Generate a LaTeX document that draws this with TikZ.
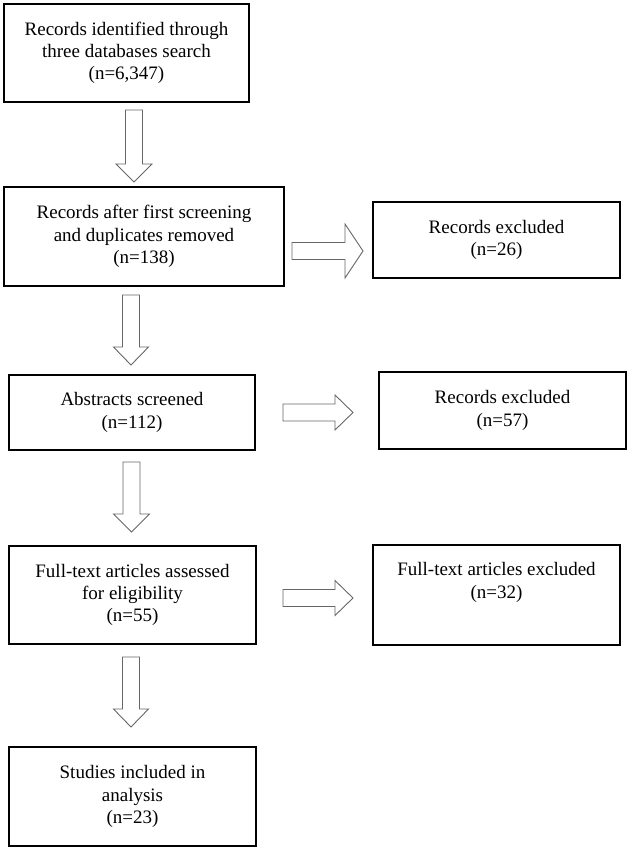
\documentclass[tikz,border=0pt]{standalone}
\usepackage{fontspec}
\setmainfont{Liberation Serif}

\tikzset{
  box/.style={draw, line width=1.8pt, align=center, outer sep=0pt,
              font=\fontsize{19}{22.3}\selectfont},
  arrowline/.style={draw=black!60, line width=0.9pt, fill=white},
}

% hollow block arrow: tail, angle, length, half head width
\newcommand{\hollowarrow}[4]{%
  \begin{scope}[shift={(#1)}, rotate=#2]
    \draw [arrowline] (0,-8.5) -- (#3-18,-8.5) -- (#3-18,-#4) -- (#3,0)
       -- (#3-18,#4) -- (#3-18,8.5) -- (0,8.5) -- cycle;
  \end{scope}}

\begin{document}
\begin{tikzpicture}[x=1pt, y=1pt]
    \useasboundingbox (0,0) rectangle (630,-850);

    % Identification
    \node [box, minimum width=245pt, minimum height=98pt] (b1) at (126.5,-53)
          {Records identified through\\three databases search\\(n=6,347)};

    % First screening
    \node [box, minimum width=280pt, minimum height=99pt] (b2) at (144,-236.5)
          {Records after first screening\\and duplicates removed\\(n=138)};
    \node [box, minimum width=247pt, minimum height=76pt] (b3) at (496.5,-240)
          {Records excluded\\(n=26)};

    % Abstracts
    \node [box, minimum width=246pt, minimum height=75pt] (b4) at (132,-412.5)
          {Abstracts screened\\(n=112)};
    \node [box, minimum width=247pt, minimum height=77pt] (b5) at (502.5,-410.5)
          {Records excluded\\(n=57)};

    % Full text
    \node [box, minimum width=247pt, minimum height=98pt] (b6) at (132.5,-595)
          {Full-text articles assessed\\for eligibility\\(n=55)};
    \node [box, minimum width=247pt, minimum height=100pt] (b7) at (496.5,-595)
          {Full-text articles excluded\\(n=32)\\\strut};

    % Included
    \node [box, minimum width=247pt, minimum height=99pt] (b8) at (132.5,-796.5)
          {Studies included in\\analysis\\(n=23)};

    % Arrow tails
    \path (b1.south)+(7.5,-8) coordinate (t1);
    \path (b2.south)+(-13,-9) coordinate (t2);
    \path (b4.south)+(-0.5,-12) coordinate (t3);
    \path (b6.south)+(-1.5,-13) coordinate (t4);
    \path (b2.east)+(8,-14.5) coordinate (r1);
    \path (b4.east)+(28,0) coordinate (r2);
    \path (b6.east)+(27,-3) coordinate (r3);

    % Down arrows
    \hollowarrow{t1}{-90}{72}{18}
    \hollowarrow{t2}{-90}{70}{17.5}
    \hollowarrow{t3}{-90}{70}{18}
    \hollowarrow{t4}{-90}{70}{17.5}

    % Exclusion arrows
    \hollowarrow{r1}{0}{71}{27}
    \hollowarrow{r2}{0}{70}{17.5}
    \hollowarrow{r3}{0}{70}{17.5}

\end{tikzpicture}
\end{document}
